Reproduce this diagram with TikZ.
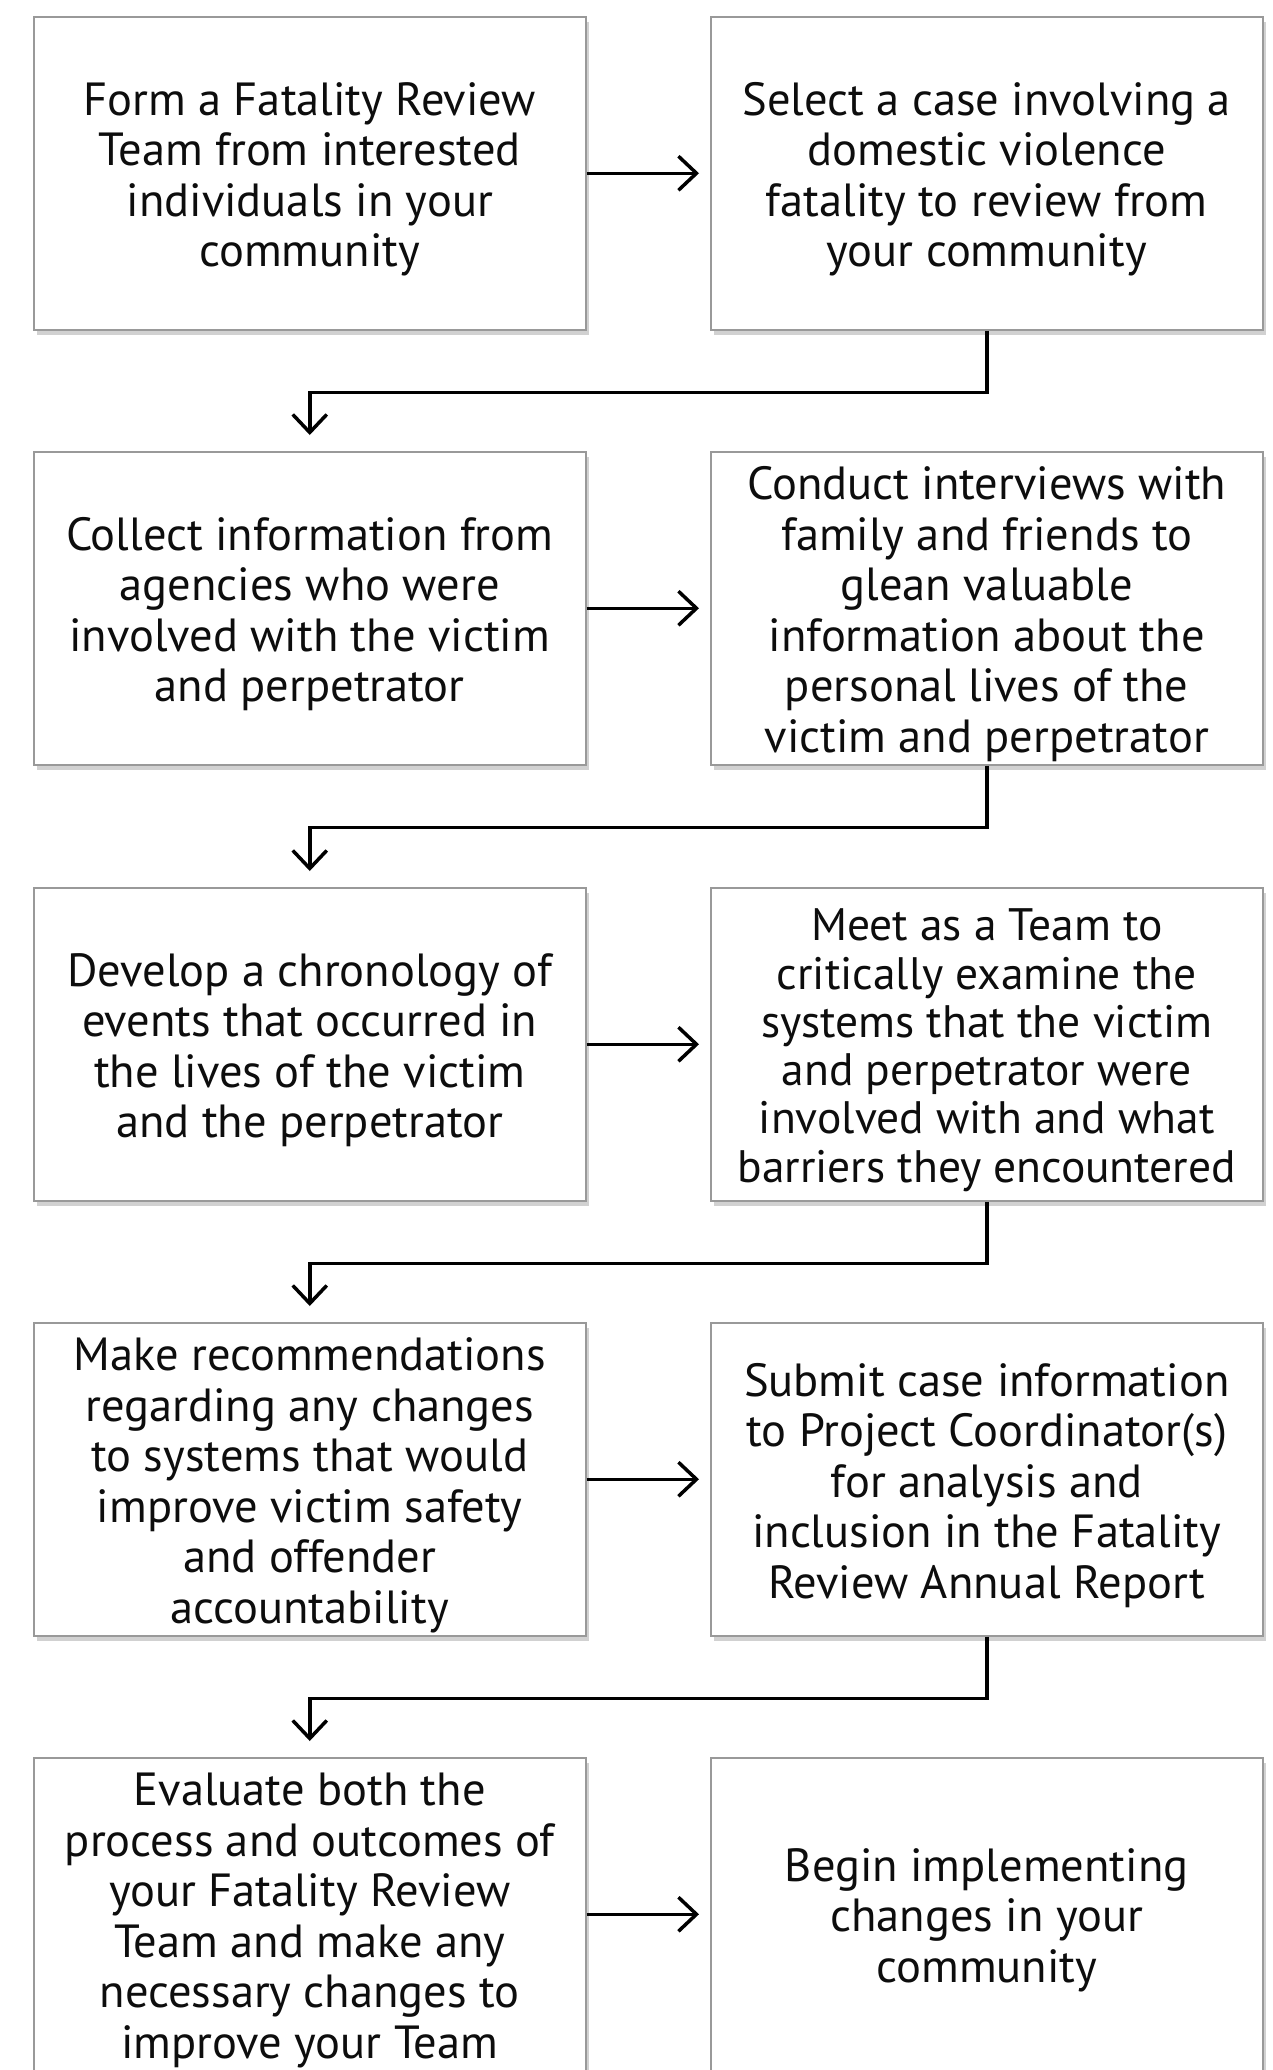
\documentclass[tikz,border=0pt]{standalone}
\usepackage{fontspec}
\setmainfont{PT Sans}
\usetikzlibrary{arrows.meta,shadows}
\begin{document}
\begin{tikzpicture}[x=1pt,y=-1pt,
  stepbox/.style={draw=black!40, line width=1.5pt, fill=white, minimum width=552pt, minimum height=313pt, inner sep=0pt, anchor=north west, drop shadow={shadow xshift=3pt, shadow yshift=-5pt, opacity=0.3, fill=black!60}},
  steptext/.style={inner sep=0pt, align=center, font=\fontsize{46.5}{50.5}\selectfont, text=black!95},
  link/.style={line width=3.5pt, -{Straight Barb[length=18pt,width=34pt]}}]
\useasboundingbox (0,0) rectangle (1272,2070);
\clip (0,0) rectangle (1272,2070);
\node[stepbox] (a1) at (33,16) {};
\node[stepbox] (b1) at (710,16) {};
\node[stepbox] (a2) at (33,451) {};
\node[stepbox] (b2) at (710,451) {};
\node[stepbox] (a3) at (33,887) {};
\node[stepbox] (b3) at (710,887) {};
\node[stepbox] (a4) at (33,1322) {};
\node[stepbox] (b4) at (710,1322) {};
\node[stepbox] (a5) at (33,1757) {};
\node[stepbox] (b5) at (710,1757) {};
\node[steptext] (ta1) at ([yshift=-6pt]a1.center) {Form a Fatality Review\\Team from interested\\individuals in your\\community};
\node[steptext] (tb1) at ([yshift=-6pt]b1.center) {Select a case involving a\\domestic violence\\fatality to review from\\your community};
\node[steptext] (ta2) at ([yshift=-6pt]a2.center) {Collect information from\\agencies who were\\involved with the victim\\and perpetrator};
\node[steptext] (tb2) at ([yshift=-6pt]b2.center) {Conduct interviews with\\family and friends to\\glean valuable\\information about the\\personal lives of the\\victim and perpetrator};
\node[steptext] (ta3) at ([yshift=-6pt]a3.center) {Develop a chronology of\\events that occurred in\\the lives of the victim\\and the perpetrator};
\node[steptext, font=\fontsize{45.5}{48.3}\selectfont] (tb3) at ([yshift=-6pt]b3.center) {Meet as a Team to\\critically examine the\\systems that the victim\\and perpetrator were\\involved with and what\\barriers they encountered};
\node[steptext] (ta4) at ([yshift=-6pt]a4.center) {Make recommendations\\regarding any changes\\to systems that would\\improve victim safety\\and offender\\accountability};
\node[steptext] (tb4) at ([yshift=-6pt]b4.center) {Submit case information\\to Project Coordinator(s)\\for analysis and\\inclusion in the Fatality\\Review Annual Report};
\node[steptext] (ta5) at ([yshift=-6pt]a5.center) {Evaluate both the\\process and outcomes of\\your Fatality Review\\Team and make any\\necessary changes to\\improve your Team};
\node[steptext] (tb5) at ([yshift=-6pt]b5.center) {Begin implementing\\changes in your\\community};
\foreach \r in {1,...,5}{
  \draw[link] (a\r.east) -- ([xshift=-11pt]b\r.west);
}
\foreach \r/\s in {1/2,2/3,3/4,4/5}{
  \draw[link] (b\r.south) -- ++(0,62) -| ([yshift=16pt]a\s.north);
}
\end{tikzpicture}
\end{document}
